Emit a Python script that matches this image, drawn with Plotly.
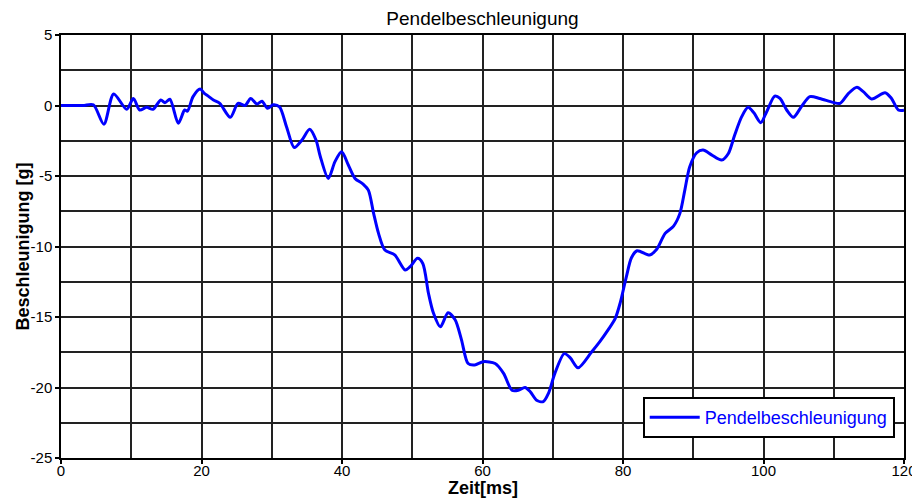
import plotly.graph_objects as go

# Pendel acceleration over time
zeit_ms = [
    0, 3.1, 4.6, 6.1, 7.5, 9.35, 10.3, 11.2, 12.2, 13.1,
    14.2, 14.8, 15.5, 16.7, 17.6, 18.0, 18.8, 19.8, 20.4, 21.0,
    21.7, 22.6, 24.1, 25.2, 26.2, 27.0, 27.9, 28.6, 29.4, 30.2,
    31.1, 32.1, 33.2, 34.3, 35.4, 36.3, 36.9, 38.05, 39.0, 39.95,
    40.9, 41.85, 43.0, 43.75, 44.5, 45.2, 46.1, 47.5, 49.0, 49.7,
    50.75, 51.5, 52.3, 53.0, 54.0, 55.1, 56.1, 57.0, 57.95, 58.9,
    60.1, 61.8, 63.0, 64.2, 65.1, 66.05, 66.8, 67.7, 68.65, 69.4,
    70.3, 71.65, 72.5, 73.6, 75.5, 76.7, 77.9, 78.9, 79.6, 80.5,
    81.2, 82.0, 83.8, 84.8, 86.0, 87.2, 88.1, 88.8, 89.5, 90.5,
    91.4, 92.6, 94.05, 95.0, 95.9, 96.9, 97.8, 98.6, 99.6, 100.45,
    101.6, 102.35, 103.3, 104.25, 105.4, 106.6, 108.0, 109.9, 110.9, 112.1,
    113.3, 114.2, 115.4, 117.3, 118.2, 119.2, 120,
]
beschleunigung_g = [
    0, 0, 0.05, -1.33, 0.82, -0.27, 0.5, -0.32, -0.13, -0.27,
    0.39, 0.2, 0.44, -1.26, -0.32, -0.4, 0.63, 1.17, 0.86, 0.65,
    0.39, 0.15, -0.84, 0.15, 0.0, 0.5, 0.1, 0.3, -0.2, 0.05,
    -0.1, -1.5, -2.98, -2.45, -1.69, -2.45, -3.6, -5.17, -3.98, -3.28,
    -4.22, -5.17, -5.57, -6.0, -7.65, -9.07, -10.25, -10.6, -11.67, -11.43,
    -10.84, -11.2, -13.3, -14.7, -15.7, -14.7, -15.2, -16.6, -18.3, -18.4,
    -18.17, -18.3, -19.0, -20.2, -20.2, -20.0, -20.3, -20.9, -21.0, -20.4,
    -19.0, -17.6, -17.9, -18.6, -17.5, -16.75, -15.9, -15.1, -14.0, -12.1,
    -10.8, -10.3, -10.6, -10.2, -9.07, -8.55, -7.65, -6.0, -4.34, -3.35,
    -3.16, -3.5, -3.87, -3.4, -2.09, -0.79, -0.13, -0.5, -1.22, -0.44,
    0.67, 0.5, -0.32, -0.84, -0.08, 0.63, 0.5, 0.22, 0.15, 0.86,
    1.29, 0.98, 0.46, 0.91, 0.51, -0.32, -0.34,
]
assert len(zeit_ms) == len(beschleunigung_g)

x_ticks = [0, 20, 40, 60, 80, 100, 120]
y_ticks = [5, 0, -5, -10, -15, -20, -25]
y_ticktext = ["5", "0", "-5", "-10", "-15", "-20", "-25"]

FONT = "Liberation Sans, Arial, sans-serif"
GRID = "#222222"

fig = go.Figure()
fig.add_trace(go.Scatter(
    x=zeit_ms,
    y=beschleunigung_g,
    mode="lines",
    name="Pendelbeschleunigung",
    line=dict(color="#0000ff", width=3, shape="spline", smoothing=0.8),
))

axis_common = dict(
    showline=True, linecolor="black", linewidth=1.5, mirror=True,
    showgrid=True, gridcolor=GRID, gridwidth=1.5,
    ticks="outside", ticklen=4, tickcolor="black", tickwidth=1.5,
    tickfont=dict(family=FONT, size=15, color="black"),
    zeroline=False, automargin=False, ticklabeloverflow="allow",
)

fig.update_xaxes(
    range=[0, 120], tickvals=x_ticks, ticklabelstandoff=-6,
    minor=dict(dtick=10, showgrid=True, gridcolor=GRID, gridwidth=1.5),
    **axis_common,
)
fig.update_yaxes(
    range=[-25, 5], tickvals=y_ticks, ticktext=y_ticktext,
    minor=dict(dtick=2.5, showgrid=True, gridcolor=GRID, gridwidth=1.5),
    **axis_common,
)

fig.update_layout(
    width=912, height=499,
    margin=dict(l=61, r=8, t=35, b=41),
    paper_bgcolor="white", plot_bgcolor="white",
    title=dict(
        text="Pendelbeschleunigung",
        font=dict(family=FONT, size=19, color="black"),
        x=0.5, xanchor="center", xref="paper",
        y=1 - 18 / 499, yanchor="middle", yref="container",
    ),
    showlegend=True,
    legend=dict(
        x=0.989, y=0.047, xanchor="right", yanchor="bottom",
        bgcolor="white", bordercolor="black", borderwidth=2,
        itemwidth=50,
        font=dict(family=FONT, size=18, color="#0000ff"),
    ),
)

# axis titles placed as annotations for exact positioning
fig.add_annotation(
    text="<b>Zeit[ms]</b>", xref="paper", yref="paper",
    x=0.5, y=-41 / 423, xanchor="center", yanchor="bottom",
    showarrow=False, borderpad=0,
    font=dict(family=FONT, size=18, color="black"),
)
fig.add_annotation(
    text="<b>Beschleunigung [g]</b>", xref="paper", yref="paper",
    x=-61 / 843 + 22 / 843, y=0.5, xanchor="center", yanchor="middle",
    textangle=-90, showarrow=False,
    font=dict(family=FONT, size=18, color="black"),
)

# drop the default page margin so the figure sits at the window origin
fig.write_html(
    "out.html",
    config={"displayModeBar": False},
    post_script="document.body.style.margin='0';document.body.style.overflow='hidden';",
)
